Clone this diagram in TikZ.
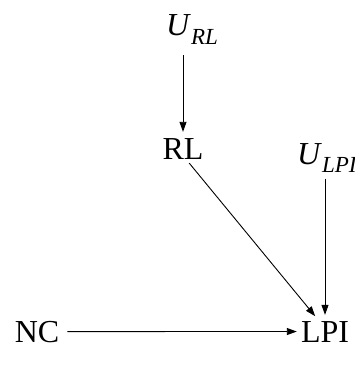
\documentclass[tikz,border=0pt]{standalone}
\usepackage{fontspec}
\setmainfont{Liberation Serif}
\usetikzlibrary{arrows.meta}
% italic subscript for the latent variables
\newcommand\latsub[1]{\raisebox{-0.27em}{\fontsize{23}{26}\selectfont\itshape #1}}
\begin{document}
\begin{tikzpicture}[x=1pt,y=-1pt,
  var/.style={inner sep=0pt, font=\fontsize{32}{38}\selectfont},
  edge/.style={line width=0.9pt, -{Triangle[length=10pt,width=7pt]}}]
\useasboundingbox (0,0) rectangle (355,369);
\node[var, anchor=base west] (url) at (166,36) {\textit{U}\latsub{RL}};
\node[var, anchor=base] (rl) at (183,159) {RL};
\node[var, anchor=base west] (ulpi) at (297,164) {\textit{U}\latsub{LPI}};
\node[var, anchor=base] (nc) at (37,342) {NC};
\node[var, anchor=base] (lpi) at (325,342) {LPI};
\draw[edge, shorten <=10pt, shorten >=6pt] (rl.north |- url.south) -- (rl.north);
\draw[edge, shorten <=6pt, shorten >=6pt] (lpi.north |- ulpi.south) -- (lpi.north);
\draw[edge, shorten <=5pt, shorten >=6pt] ([xshift=3pt]rl.south) -- ([xshift=-6pt]lpi.north);
\draw[edge, shorten <=8pt, shorten >=4pt] (nc.east) -- (lpi.west);
\end{tikzpicture}
\end{document}
